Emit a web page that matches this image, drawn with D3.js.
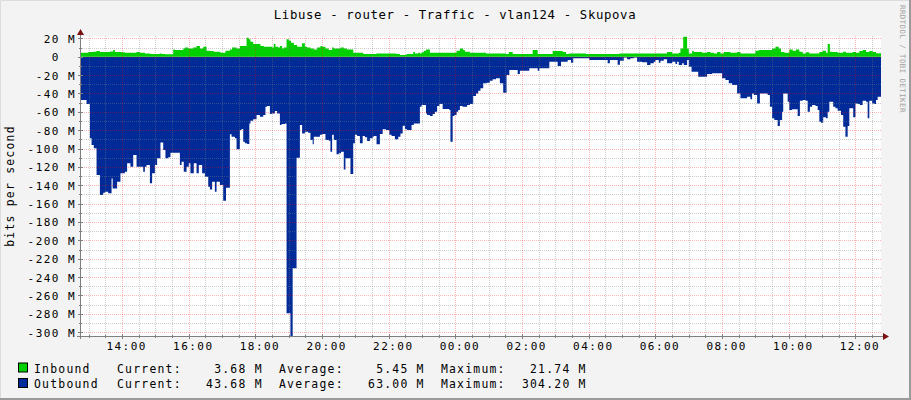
<!DOCTYPE html>
<html><head><meta charset="utf-8">
<script src="https://cdn.jsdelivr.net/npm/d3@7"></script>
<style>
html,body{margin:0;padding:0;background:#f3f3f3}
svg{display:block}
text{font-family:"DejaVu Sans Mono",monospace;white-space:pre}
</style>
</head><body>
<svg id="c" width="911" height="400"></svg>
<script>
// ---------- DATA ----------
const chartTitle = "Libuse - router - Traffic - vlan124 - Skupova";
const yAxisTitle = "bits per second";
const watermark = "RRDTOOL / TOBI OETIKER";
const startClock = [12, 46];          // start time of the 24h window
const spanMinutes = 1440;
const seriesNames = ["Inbound", "Outbound"];
const currentVals = [3.68, 43.68];    // M
const averageVals = [5.45, 63.00];
const maximumVals = [21.74, 304.20];
const yTickValues = [20,0,-20,-40,-60,-80,-100,-120,-140,-160,-180,-200,-220,-240,-260,-280,-300];
const yDomain = [-304.2, 22.6];

// Inbound (M bits/s): minutes after start, value
const inMin = [0,13,22,28,34,52,58,61,73,79,100,106,115,124,142,145,151,166,169,184,187,193,202,208,214,220,226,232,239,251,260,268,272,280,286,298,302,305,310,323,329,344,347,350,355,358,362,365,370,374,378,383,389,398,403,407,413,419,425,431,434,440,446,452,455,467,473,479,490,508,532,568,574,586,598,601,607,610,613,617,621,628,676,682,688,691,700,729,765,770,777,813,822,849,867,873,879,909,969,1055,1064,1076,1079,1084,1091,1094,1100,1103,1118,1127,1133,1139,1145,1151,1157,1169,1181,1187,1214,1220,1244,1250,1256,1260,1266,1275,1281,1287,1293,1299,1305,1311,1329,1335,1341,1344,1348,1353,1362,1372,1377,1389,1395,1401,1407,1413,1419,1425,1431];
const inVal = [4.4,5.1,5.5,6.2,5.1,5.8,7.3,5.1,4.8,4.4,5.1,4.4,3.6,2.9,3.6,2.9,2.6,8,7.3,9.1,10.2,9.1,10.2,11.7,9.1,10.9,6.5,6.2,5.5,4.4,6.5,8,10.2,9.1,11.7,20.8,19,16.3,13.8,11.7,10.9,10.2,13.8,10.9,10.2,11.7,9.1,10.2,19,17.4,15.3,12.7,10.9,14.6,10.9,10.2,9.1,8,10.2,11.7,10.9,9.1,7.3,10.2,9.1,10.2,9.1,8,4.4,2.9,3.6,2.9,1.9,2.9,5.1,3.6,4.4,3.6,4.8,6.5,8,4.4,6.5,9.1,7.3,5.5,4.4,3.6,2.9,5.1,2.9,7.3,2.9,6.2,5.1,2.9,3.6,2.9,3.6,5.1,3.6,4.4,9.1,21.74,9.1,3.6,6.2,5.1,4.4,5.1,4.4,3.6,5.1,3.6,5.1,4.4,5.1,3.6,6.5,7.3,9.1,10.9,9.1,5.1,4.4,8,6.5,8,5.5,3.6,4.8,3.6,5.1,6.5,4.4,13.8,5.5,5.1,4.4,5.5,4.4,5.1,4.4,6.2,7.3,5.1,6.2,5.1,3.68];

// Outbound (M bits/s, drawn below zero): minutes after start, value
const outMin = [0,10,16,19,23,28,34,40,43,49,55,57,65,71,79,83,89,94,100,112,115,118,124,128,133,137,143,148,152,157,161,178,181,185,190,194,197,203,208,212,218,223,229,232,236,241,244,250,256,261,268,271,277,280,286,289,292,295,299,303,305,310,316,322,328,332,335,340,343,349,353,358,361,367,370,377,381,388,394,398,403,409,413,417,419,430,434,440,446,449,452,455,460,464,468,473,476,485,490,493,497,502,507,511,515,520,525,527,532,538,543,549,555,559,565,571,575,579,583,587,595,599,610,613,621,623,628,633,637,641,645,651,663,665,669,672,676,679,682,687,695,700,706,711,715,719,724,730,736,741,747,754,760,766,771,786,790,807,822,825,843,858,864,876,882,886,915,948,952,966,970,977,983,989,995,1001,1010,1019,1025,1031,1034,1040,1043,1049,1055,1064,1070,1073,1076,1082,1085,1091,1094,1099,1111,1127,1136,1154,1160,1166,1172,1181,1187,1199,1205,1208,1211,1217,1222,1236,1240,1244,1248,1254,1258,1262,1264,1272,1275,1280,1290,1294,1299,1305,1308,1312,1316,1322,1326,1329,1332,1336,1341,1344,1347,1354,1358,1362,1368,1372,1376,1380,1383,1390,1394,1398,1402,1407,1413,1416,1419,1424,1428,1431,1434];
const outVal = [47.2,51.5,88.9,96.2,99.8,128.9,150.7,148.1,147,148.8,132.5,143.4,136.2,127,125.3,116.1,119.8,107.1,119.8,125.3,119.8,118,137.9,127,118,110.7,93.3,101.6,110.7,109.6,104.6,118,114.4,125.3,119.8,116.1,127,116.1,127,118,127,130.7,141.6,144.5,136.2,147,136.2,139.8,156.9,142.6,84.5,87.1,88.9,100.9,79.8,78.8,92.6,94.3,95.1,72.6,69.7,68.2,63.5,65.4,63.5,54.5,53.7,62.4,61.7,59.2,61.7,74.4,73.3,72.6,279.5,304.2,230.5,110,74.4,83.5,81.7,82.8,90.7,95.4,87.1,85.1,84.2,90.7,91.5,103.5,85.1,90.7,106.3,105.2,103.5,122.7,110.7,127.8,94.3,85.1,86.4,94.3,86.4,87.8,91.8,88.9,87.1,86.4,95.4,84.2,79.1,79.8,85.1,86.4,90,87.1,83.5,75.2,79.1,79.8,74.4,72.6,54.5,52.6,61.7,63.5,64.6,62.4,59.9,53.7,51.5,57,58.1,92.6,64.6,63.5,59.9,58.1,53.7,54.5,52.6,51.5,42.8,39.9,37,34.4,29,28.3,26.1,24.6,23.5,29,39.2,19.9,14.5,18.8,15.3,12.6,15.3,12.6,5.4,10.1,5.4,3.6,6.5,1.7,3.6,7.2,3.6,8.7,4.4,0.7,2.8,1.7,0.7,5.4,6.1,9,7.2,5.4,3.6,6.5,4.4,2.8,7.2,5.4,8,5.4,9,7.2,9,3.6,10.9,16.3,21.8,18.8,18.1,23.5,25.4,29,30.8,39.9,45.3,43.6,46.4,39.9,41.7,50.8,39.9,41.7,54.5,67.1,69,75.5,69,59.9,39.9,49,58.1,57.3,64.6,47.9,47.2,47.9,59.9,54.5,52.6,53.7,58.1,70.8,71.9,66,67.1,59.9,49,54.5,56.2,58.8,63.5,76.3,87.1,75.5,56.2,66,50.8,51.5,52.6,47.9,49,67.1,47.9,50.8,51.5,47.2,43.68];

// ---------- STYLE / LAYOUT ----------
const W = 911, H = 400;
const PX0 = 81, PX1 = 881, PY0 = 36, PY1 = 336;
const colIn = "#00CF00", colOut = "#002A97";
const axisFont = {size: 11, ls: 1.45};
const legFont = {size: 11.4, ls: 1.24};

const svg = d3.select("#c");
svg.append("rect").attr("width", W).attr("height", H).attr("fill", "#f3f3f3");
// 3D frame
svg.append("path").attr("d", `M0.5,${H} V0.5 H${W}`).attr("fill","none").attr("stroke","#dcdcdc");
svg.append("path").attr("d", `M${W-1},0 V${H-1} H0`).attr("fill","none").attr("stroke","#9a9a9a").attr("stroke-width",2);

const t0 = new Date(2020, 0, 1, startClock[0], startClock[1]);
const t1 = new Date(t0.getTime() + spanMinutes * 60000);
const toDate = m => new Date(t0.getTime() + m * 60000);

const x = d3.scaleTime().domain([t0, t1]).range([PX0, PX1]);
const y = d3.scaleLinear().domain(yDomain).range([PY1, PY0]);

// dotted-grid patterns (semi-transparent like rrdtool's GRID / MGRID)
const minorCol = "rgba(128,128,128,0.4)", majorCol = "rgba(255,0,0,0.3)";
const defs = svg.append("defs");
[["pvmin", 1, 2, minorCol], ["pvmaj", 1, 2, majorCol], ["phmin", 2, 1, minorCol], ["phmaj", 2, 1, majorCol]]
  .forEach(([id, w, h, c]) => {
    defs.append("pattern").attr("id", id).attr("patternUnits", "userSpaceOnUse")
      .attr("width", w).attr("height", h)
      .append("rect").attr("width", 1).attr("height", 1).attr("fill", c);
  });

// canvas
svg.append("rect").attr("x", PX0).attr("y", PY0).attr("width", PX1 - PX0).attr("height", PY1 - PY0).attr("fill", "#fff");

// areas
function series(mins, vals, sign) {
  const d = mins.map((m, i) => ({t: toDate(m), v: sign * vals[i]}));
  d.push({t: t1, v: sign * vals[vals.length - 1]});
  return d;
}
const area = d3.area().x(d => x(d.t)).y0(y(0)).y1(d => y(d.v)).curve(d3.curveStepAfter);
svg.append("path").datum(series(outMin, outVal, -1)).attr("d", area).attr("fill", colOut);
svg.append("path").datum(series(inMin, inVal, 1)).attr("d", area).attr("fill", colIn);

// grid (dotted, drawn on top of areas)
const g = svg.append("g").attr("shape-rendering", "crispEdges");
const minorY = d3.range(-300, 21, 10).filter(v => v % 20 !== 0);
const minorX = x.ticks(d3.timeMinute.every(30)).filter(d => !(d.getMinutes() === 0 && d.getHours() % 2 === 0));
const majorX = x.ticks(d3.timeHour.every(2));
function hLines(cls, data, pat) {
  g.selectAll("rect." + cls).data(data).join("rect").attr("class", cls)
    .attr("x", PX0).attr("width", PX1 - PX0).attr("y", d => Math.round(y(d))).attr("height", 1)
    .attr("fill", `url(#${pat})`);
}
function vLines(cls, data, pat) {
  g.selectAll("rect." + cls).data(data).join("rect").attr("class", cls)
    .attr("x", d => Math.round(x(d))).attr("width", 1).attr("y", PY0).attr("height", PY1 - PY0)
    .attr("fill", `url(#${pat})`);
}
hLines("gminy", minorY, "phmin");
vLines("gminx", minorX, "pvmin");
hLines("gmajy", yTickValues, "phmaj");
vLines("gmajx", majorX, "pvmaj");

// axes lines + ticks
const axisCol = "#7f7f7f";
const crisp = v => Math.round(v) + 0.5;
const a = svg.append("g").attr("shape-rendering", "crispEdges");
a.append("line").attr("x1", PX0 - 0.5).attr("x2", PX0 - 0.5).attr("y1", PY0 - 3).attr("y2", PY1 + 3).attr("stroke", axisCol);
a.append("line").attr("x1", PX0 - 4).attr("x2", PX1 + 3).attr("y1", PY1 + 0.5).attr("y2", PY1 + 0.5).attr("stroke", axisCol);
a.selectAll("line.ty").data(yTickValues).join("line").attr("class", "ty")
  .attr("x1", PX0 - 3).attr("x2", PX0 + 2).attr("y1", d => crisp(y(d))).attr("y2", d => crisp(y(d))).attr("stroke", axisCol);
a.selectAll("line.tym").data(minorY).join("line").attr("class", "tym")
  .attr("x1", PX0 - 2).attr("x2", PX0 + 1).attr("y1", d => crisp(y(d))).attr("y2", d => crisp(y(d))).attr("stroke", axisCol);
a.selectAll("line.tx").data(majorX).join("line").attr("class", "tx")
  .attr("x1", d => crisp(x(d))).attr("x2", d => crisp(x(d))).attr("y1", PY1 - 2).attr("y2", PY1 + 3).attr("stroke", axisCol);
a.selectAll("line.txm").data(minorX).join("line").attr("class", "txm")
  .attr("x1", d => crisp(x(d))).attr("x2", d => crisp(x(d))).attr("y1", PY1 - 1).attr("y2", PY1 + 2).attr("stroke", axisCol);
// arrows
svg.append("path").attr("d", `M${PX0-4},${PY0-1} L${PX0+3},${PY0-1} L${PX0-0.5},${PY0-7} Z`).attr("fill", "#7a1010");
svg.append("path").attr("d", `M${PX1+2},${PY1-3} L${PX1+2},${PY1+4} L${PX1+8},${PY1+0.5} Z`).attr("fill", "#7a1010");

// axis labels via d3 axes
const yAxis = d3.axisLeft(y).tickValues(yTickValues).tickSize(0).tickPadding(0)
  .tickFormat(d => d === 0 ? "0  " : `${d} M`);
const ya = svg.append("g").attr("transform", `translate(${PX0 - 5},0)`).call(yAxis);
ya.select(".domain").remove();
ya.selectAll("text").attr("font-family", "DejaVu Sans Mono").attr("font-size", axisFont.size)
  .style("letter-spacing", axisFont.ls + "px").attr("fill", "#000").attr("dy", "0.36em");

const xAxis = d3.axisBottom(x).ticks(d3.timeHour.every(2)).tickSize(0).tickPadding(0)
  .tickFormat(d3.timeFormat("%H:%M"));
const xa = svg.append("g").attr("transform", `translate(4,${PY1 + 6})`).call(xAxis);
xa.select(".domain").remove();
xa.selectAll("text").attr("font-family", "DejaVu Sans Mono").attr("font-size", axisFont.size)
  .style("letter-spacing", axisFont.ls + "px").attr("fill", "#000").attr("dy", "0.72em");

// title
svg.append("text").attr("x", 455).attr("y", 19).attr("text-anchor", "middle")
  .attr("font-size", 12.3).style("letter-spacing", "0.65px").attr("fill", "#000").text(chartTitle);
// y title
svg.append("text").attr("transform", "translate(14,186) rotate(-90)").attr("text-anchor", "middle")
  .attr("font-size", legFont.size).style("letter-spacing", legFont.ls + "px").attr("fill", "#000").text(yAxisTitle);
// watermark
svg.append("text").attr("transform", "translate(900,5) rotate(90)")
  .attr("font-size", 7.4).style("letter-spacing", "0.45px").attr("fill", "#a0a0a0").text(watermark);

// legend
const f = v => v.toFixed(2).padStart(8, " ");
const colors = [colIn, colOut];
seriesNames.forEach((name, i) => {
  const yb = 372.5 + i * 15.5;
  svg.append("rect").attr("x", 18.5).attr("y", yb - 9.5).attr("width", 9).attr("height", 9)
    .attr("fill", colors[i]).attr("stroke", "#000");
  svg.append("text").attr("x", 34).attr("y", yb).attr("font-size", legFont.size)
    .style("letter-spacing", legFont.ls + "px").text(name);
  svg.append("text").attr("x", 117).attr("y", yb).attr("font-size", legFont.size)
    .style("letter-spacing", legFont.ls + "px")
    .text(`Current:${f(currentVals[i])} M  Average:${f(averageVals[i])} M  Maximum:${f(maximumVals[i])} M`);
});
</script>
</body></html>
